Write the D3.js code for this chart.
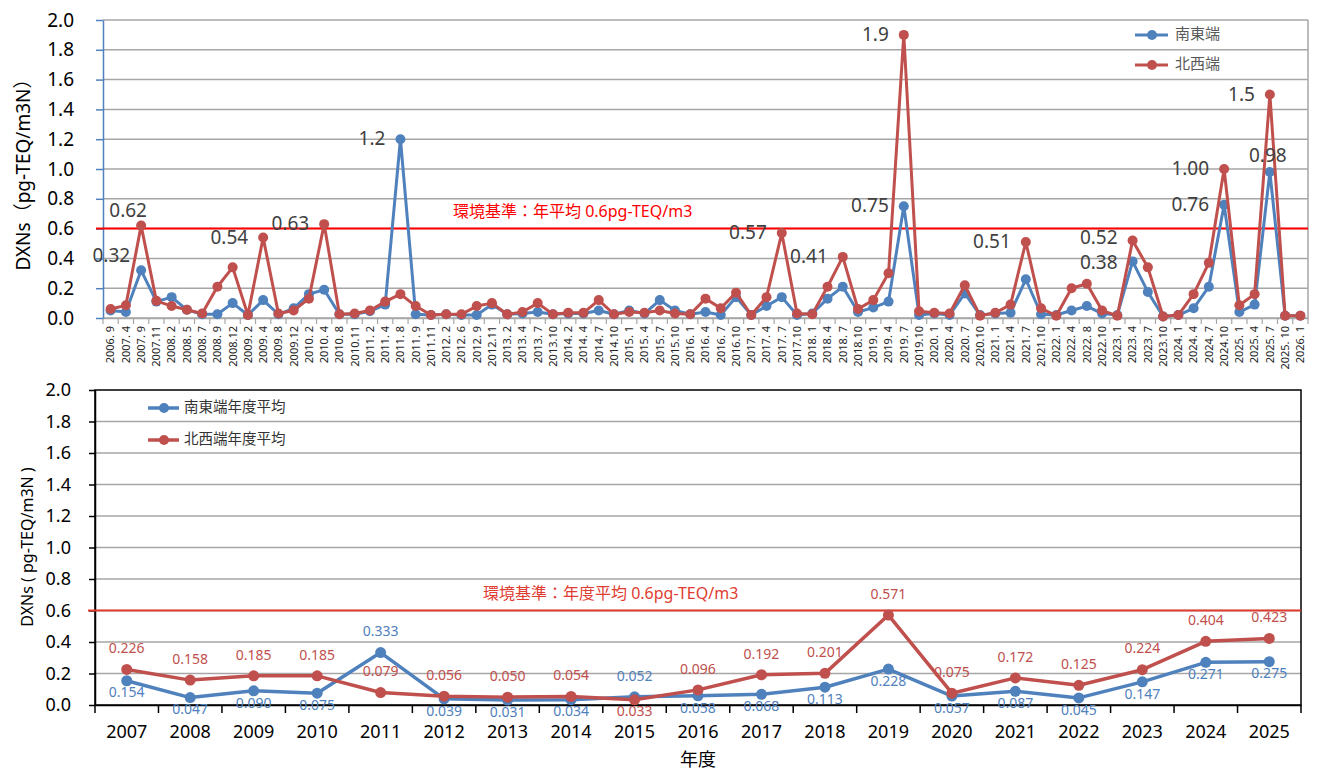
<!DOCTYPE html>
<html>
<head>
<meta charset="utf-8">
<script src="https://cdn.jsdelivr.net/npm/d3@7"></script>
<style>
body { margin: 0; background: #fff; }
svg { display: block; font-family: "Noto Sans", "Noto Sans CJK JP", sans-serif; }
</style>
</head>
<body>
<svg id="chart" width="1317" height="773"></svg>
<script>
// ---- upper chart data: each sampling ----
var sampleDates = ['2006. 9','2007. 4','2007. 9','2007.11','2008. 2','2008. 5','2008. 7','2008. 9','2008.12','2009. 2',
    '2009. 4','2009. 8','2009.12','2010. 2','2010. 4','2010. 8','2010.11','2011. 2','2011. 4','2011. 8',
    '2011. 9','2011.11','2012. 2','2012. 6','2012. 9','2012.11','2013. 2','2013. 4','2013. 7','2013.10',
    '2014. 2','2014. 4','2014. 7','2014.10','2015. 1','2015. 4','2015. 7','2015.10','2016. 1','2016. 4',
    '2016. 7','2016.10','2017. 1','2017. 4','2017. 7','2017.10','2018. 1','2018. 4','2018. 7','2018.10',
    '2019. 1','2019. 4','2019. 7','2019.10','2020. 1','2020. 4','2020. 7','2020.10','2021. 1','2021. 4',
    '2021. 7','2021.10','2022. 1','2022. 4','2022. 8','2022.10','2023. 1','2023. 4','2023. 7','2023.10',
    '2024. 1','2024. 4','2024. 7','2024.10','2025. 1','2025. 4','2025. 7','2025. 10','2026. 1'];

var southEast = [0.05,0.04,0.32,0.11,0.14,0.055,0.025,0.025,0.10,0.02,
    0.12,0.025,0.065,0.16,0.19,0.025,0.025,0.045,0.09,1.2,
    0.025,0.02,0.025,0.02,0.02,0.09,0.025,0.03,0.04,0.025,
    0.03,0.03,0.05,0.025,0.05,0.03,0.12,0.05,0.025,0.04,
    0.02,0.14,0.02,0.08,0.14,0.02,0.03,0.13,0.21,0.04,
    0.07,0.11,0.75,0.02,0.03,0.02,0.165,0.02,0.03,0.035,
    0.26,0.025,0.02,0.05,0.08,0.03,0.02,0.38,0.175,0.01,
    0.02,0.065,0.21,0.76,0.04,0.09,0.98,0.015,0.015];

var northWest = [0.06,0.085,0.62,0.115,0.08,0.055,0.03,0.21,0.34,0.02,
    0.54,0.03,0.05,0.13,0.63,0.025,0.03,0.05,0.11,0.16,
    0.08,0.02,0.025,0.025,0.08,0.10,0.025,0.04,0.10,0.025,
    0.035,0.035,0.12,0.025,0.04,0.035,0.05,0.03,0.025,0.13,
    0.065,0.17,0.02,0.14,0.57,0.03,0.025,0.21,0.41,0.06,
    0.12,0.30,1.9,0.045,0.035,0.03,0.22,0.015,0.035,0.09,
    0.51,0.065,0.015,0.20,0.23,0.05,0.015,0.52,0.34,0.01,
    0.02,0.16,0.37,1.00,0.085,0.16,1.5,0.015,0.015];

// labelled peaks: [series, index, text]
var peakLabels = [
    ['se', 2, '0.32'], ['nw', 2, '0.62'], ['nw', 10, '0.54'], ['nw', 14, '0.63'],
    ['se', 19, '1.2'], ['nw', 44, '0.57'], ['nw', 48, '0.41'], ['nw', 52, '1.9'],
    ['se', 52, '0.75'], ['nw', 60, '0.51'], ['nw', 67, '0.52'], ['se', 67, '0.38'],
    ['nw', 73, '1.00'], ['se', 73, '0.76'], ['nw', 76, '1.5'], ['se', 76, '0.98']
];

// ---- lower chart data: yearly averages ----
var years = ['2007','2008','2009','2010','2011','2012','2013','2014','2015','2016',
    '2017','2018','2019','2020','2021','2022','2023','2024','2025'];
var seAnnual = [0.154,0.047,0.090,0.075,0.333,0.039,0.031,0.034,0.052,0.058,
    0.068,0.113,0.228,0.057,0.087,0.045,0.147,0.271,0.275];
var nwAnnual = [0.226,0.158,0.185,0.185,0.079,0.056,0.050,0.054,0.033,0.096,
    0.192,0.201,0.571,0.075,0.172,0.125,0.224,0.404,0.423];

var yTicks = [0,0.2,0.4,0.6,0.8,1.0,1.2,1.4,1.6,1.8,2.0];
var limitValue = 0.6;

var BLUE = '#4f81bd', RED = '#c0504d';
var svg = d3.select('#chart');

function drawSeries(g, xf, yf, values, color, width, r) {
    g.append('path').datum(values)
        .attr('d', d3.line().x(function(d, i) { return xf(i); }).y(function(d) { return yf(d); }))
        .attr('fill', 'none').attr('stroke', color)
        .attr('stroke-width', width).attr('stroke-linejoin', 'round');
    g.selectAll(null).data(values).enter().append('circle')
        .attr('cx', function(d, i) { return xf(i); })
        .attr('cy', function(d) { return yf(d); })
        .attr('r', r).attr('fill', color);
}

/* ================= upper chart ================= */
var xU = d3.scaleBand().domain(sampleDates).range([103, 1308]);
var yU = d3.scaleLinear().domain([0, 2]).range([318, 20]);
var cxU = function(i) { return xU(sampleDates[i]) + xU.bandwidth() / 2; };
var gU = svg.append('g');

gU.selectAll('.gridU').data(yTicks).enter().append('line')
    .attr('x1', 103).attr('x2', 1308)
    .attr('y1', function(d) { return yU(d); }).attr('y2', function(d) { return yU(d); })
    .attr('stroke', '#a6a6a6').attr('stroke-width', 1.5);
gU.append('line').attr('x1', 1308).attr('x2', 1308).attr('y1', 20).attr('y2', 318)
    .attr('stroke', '#a6a6a6').attr('stroke-width', 1.5);

var xAxisU = gU.append('g').attr('transform', 'translate(0,318)')
    .call(d3.axisBottom(xU).tickSize(0).tickSizeOuter(0));
xAxisU.attr('font-family', null).attr('font-size', null);
xAxisU.select('.domain').attr('stroke', '#a6a6a6').attr('stroke-width', 1.5);
xAxisU.selectAll('text')
    .attr('transform', 'rotate(-90)').attr('x', -8).attr('y', 0).attr('dy', '0.35em')
    .style('text-anchor', 'end').style('font-size', '11px').attr('fill', '#262626');
gU.selectAll('.tickU').data(d3.range(sampleDates.length + 1)).enter().append('line')
    .attr('x1', function(i) { return xU.range()[0] + i * xU.step(); })
    .attr('x2', function(i) { return xU.range()[0] + i * xU.step(); })
    .attr('y1', 318).attr('y2', 324)
    .attr('stroke', '#a6a6a6').attr('stroke-width', 1.2);

var yAxisU = gU.append('g').attr('transform', 'translate(103,0)')
    .call(d3.axisLeft(yU).tickValues(yTicks).tickFormat(d3.format('.1f'))
        .tickSize(7).tickPadding(22).tickSizeOuter(0));
yAxisU.attr('font-family', null).attr('font-size', null);
yAxisU.select('.domain').attr('stroke', BLUE).attr('stroke-width', 1.5);
yAxisU.selectAll('.tick line').attr('stroke', BLUE).attr('stroke-width', 1.5);
yAxisU.selectAll('text').style('font-size', '19px').attr('fill', '#000');

gU.append('text')
    .attr('transform', 'translate(30,170) rotate(-90)')
    .attr('text-anchor', 'middle').style('font-size', '19px').attr('fill', '#000')
    .text('DXNs（pg-TEQ/m3N）');

// environmental standard
gU.append('line').attr('x1', 96).attr('x2', 1308)
    .attr('y1', yU(limitValue)).attr('y2', yU(limitValue))
    .attr('stroke', '#ff0000').attr('stroke-width', 2);
gU.append('text').attr('x', 453).attr('y', yU(limitValue) - 12)
    .style('font-size', '16px').attr('fill', '#ff0000')
    .text('環境基準：年平均 0.6pg-TEQ/m3');

drawSeries(gU, cxU, yU, southEast, BLUE, 3, 5);
drawSeries(gU, cxU, yU, northWest, RED, 3, 5);

// peak value labels, mostly placed left of the point
gU.selectAll('.peak').data(peakLabels).enter().append('text')
    .each(function(d) {
        var v = d[0] === 'se' ? southEast[d[1]] : northWest[d[1]];
        var px = cxU(d[1]), py = yU(v);
        var t = d3.select(this);
        if (d[2] === '0.62') t.attr('x', px - 13).attr('y', py - 14).attr('text-anchor', 'middle');
        else if (d[2] === '0.32') t.attr('x', px - 11).attr('y', py - 13).attr('text-anchor', 'end');
        else if (d[2] === '0.98') t.attr('x', px - 2).attr('y', py - 15).attr('text-anchor', 'middle');
        else if (d[2] === '0.52') t.attr('x', px - 15).attr('y', py - 2).attr('text-anchor', 'end');
        else if (d[2] === '0.38') t.attr('x', px - 15).attr('y', py + 3).attr('text-anchor', 'end');
        else t.attr('x', px - 15).attr('y', py + 1).attr('text-anchor', 'end');
    })
    .attr('dominant-baseline', 'middle')
    .style('font-size', '19px').attr('fill', '#404040')
    .text(function(d) { return d[2]; });

// legend
[['南東端', BLUE, 35], ['北西端', RED, 65]].forEach(function(l) {
    gU.append('line').attr('x1', 1135).attr('x2', 1168).attr('y1', l[2]).attr('y2', l[2])
        .attr('stroke', l[1]).attr('stroke-width', 3);
    gU.append('circle').attr('cx', 1152).attr('cy', l[2]).attr('r', 5).attr('fill', l[1]);
    gU.append('text').attr('x', 1175).attr('y', l[2]).attr('dominant-baseline', 'middle')
        .style('font-size', '15px').attr('fill', '#595959').text(l[0]);
});

/* ================= lower chart ================= */
var xL = d3.scaleBand().domain(years).range([95, 1301]);
var yL = d3.scaleLinear().domain([0, 2]).range([705, 390]);
var cxL = function(i) { return xL(years[i]) + xL.bandwidth() / 2; };
var gL = svg.append('g');

gL.selectAll('.gridL').data(yTicks.slice(1, -1)).enter().append('line')
    .attr('x1', 95).attr('x2', 1301)
    .attr('y1', function(d) { return yL(d); }).attr('y2', function(d) { return yL(d); })
    .attr('stroke', '#a6a6a6').attr('stroke-width', 1.5);
gL.append('rect').attr('x', 95).attr('y', 390).attr('width', 1206).attr('height', 315)
    .attr('fill', 'none').attr('stroke', '#000').attr('stroke-width', 1.5);

var xAxisL = gL.append('g').attr('transform', 'translate(0,705)')
    .call(d3.axisBottom(xL).tickSize(0).tickSizeOuter(0).tickPadding(20));
xAxisL.attr('font-family', null).attr('font-size', null);
xAxisL.select('.domain').attr('stroke', '#000').attr('stroke-width', 1.5);
xAxisL.selectAll('text').style('font-size', '18px').attr('fill', '#000');
gL.selectAll('.tickL').data(d3.range(years.length + 1)).enter().append('line')
    .attr('x1', function(i) { return xL.range()[0] + i * xL.step(); })
    .attr('x2', function(i) { return xL.range()[0] + i * xL.step(); })
    .attr('y1', 705).attr('y2', 713)
    .attr('stroke', '#000').attr('stroke-width', 1.5);

var yAxisL = gL.append('g').attr('transform', 'translate(95,0)')
    .call(d3.axisLeft(yL).tickValues(yTicks).tickFormat(d3.format('.1f'))
        .tickSize(6).tickPadding(18).tickSizeOuter(0));
yAxisL.attr('font-family', null).attr('font-size', null);
yAxisL.select('.domain').attr('stroke', '#000').attr('stroke-width', 1.5);
yAxisL.selectAll('.tick line').attr('stroke', '#000').attr('stroke-width', 1.5);
yAxisL.selectAll('text').style('font-size', '18px').attr('fill', '#000');

gL.append('text')
    .attr('transform', 'translate(33,547) rotate(-90)')
    .attr('text-anchor', 'middle').style('font-size', '16px').attr('fill', '#000')
    .text('DXNs ( pg-TEQ/m3N )');
gL.append('text').attr('x', 698).attr('y', 766).attr('text-anchor', 'middle')
    .style('font-size', '18px').attr('fill', '#000').text('年度');

gL.append('line').attr('x1', 88).attr('x2', 1301)
    .attr('y1', yL(limitValue)).attr('y2', yL(limitValue))
    .attr('stroke', '#e03c31').attr('stroke-width', 2);
gL.append('text').attr('x', 483).attr('y', yL(limitValue) - 12)
    .style('font-size', '16px').attr('fill', '#e03c31')
    .text('環境基準：年度平均 0.6pg-TEQ/m3');

drawSeries(gL, cxL, yL, seAnnual, BLUE, 3.5, 5.5);
drawSeries(gL, cxL, yL, nwAnnual, RED, 3.5, 5.5);

// value labels: blue under the point, red above, except where lines cross
var blueAbove = ['2011', '2015'], redBelow = ['2015'];
gL.selectAll('.lblSE').data(seAnnual).enter().append('text')
    .attr('x', function(d, i) { return cxL(i); })
    .attr('y', function(d, i) { return yL(d) + (blueAbove.indexOf(years[i]) >= 0 ? -20 : 13); })
    .attr('text-anchor', 'middle').attr('dominant-baseline', 'middle')
    .style('font-size', '14px').attr('fill', '#4f81bd')
    .text(function(d) { return d.toFixed(3); });
gL.selectAll('.lblNW').data(nwAnnual).enter().append('text')
    .attr('x', function(d, i) { return cxL(i); })
    .attr('y', function(d, i) { return yL(d) + (redBelow.indexOf(years[i]) >= 0 ? 12 : -20); })
    .attr('text-anchor', 'middle').attr('dominant-baseline', 'middle')
    .style('font-size', '14px').attr('fill', RED)
    .text(function(d) { return d.toFixed(3); });

[['南東端年度平均', BLUE, 408], ['北西端年度平均', RED, 440]].forEach(function(l) {
    gL.append('line').attr('x1', 148).attr('x2', 179).attr('y1', l[2]).attr('y2', l[2])
        .attr('stroke', l[1]).attr('stroke-width', 3.5);
    gL.append('circle').attr('cx', 164).attr('cy', l[2]).attr('r', 5).attr('fill', l[1]);
    gL.append('text').attr('x', 184).attr('y', l[2]).attr('dominant-baseline', 'middle')
        .style('font-size', '14.5px').attr('fill', '#333').text(l[0]);
});
</script>
</body>
</html>
